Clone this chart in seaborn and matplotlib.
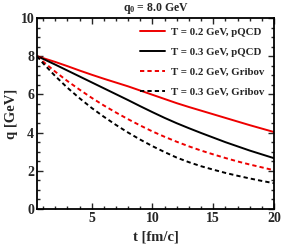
import numpy as np
import pandas as pd
import matplotlib
matplotlib.use("Agg")
import matplotlib.pyplot as plt
import seaborn as sns
from matplotlib.ticker import MultipleLocator

# Data
t_vals = [0.5, 1, 2, 3, 4, 5, 6, 7, 8, 9, 10,
          11, 12, 13, 14, 15, 16, 17, 18, 19, 20]
q_T02_pqcd = [8.00, 7.90, 7.70, 7.48, 7.25, 7.03, 6.82, 6.62, 6.42, 6.20, 5.98,
              5.76, 5.54, 5.34, 5.15, 4.96, 4.77, 4.58, 4.39, 4.21, 4.03]
q_T03_pqcd = [8.00, 7.86, 7.56, 7.25, 6.94, 6.63, 6.32, 6.01, 5.70, 5.38, 5.07,
              4.77, 4.49, 4.23, 3.98, 3.74, 3.50, 3.28, 3.06, 2.86, 2.66]
q_T02_grib = [8.00, 7.72, 7.19, 6.70, 6.25, 5.82, 5.42, 5.05, 4.70, 4.37, 4.06,
              3.78, 3.52, 3.28, 3.06, 2.86, 2.67, 2.49, 2.33, 2.18, 2.03]
q_T03_grib = [8.00, 7.63, 6.96, 6.35, 5.80, 5.29, 4.83, 4.40, 4.00, 3.63, 3.29,
              2.98, 2.69, 2.45, 2.24, 2.06, 1.89, 1.74, 1.60, 1.47, 1.35]
labels = ["T = 0.2 GeV, pQCD", "T = 0.3 GeV, pQCD",
          "T = 0.2 GeV, Gribov", "T = 0.3 GeV, Gribov"]
x_ticks = [5, 10, 15, 20]
y_ticks = [0, 2, 4, 6, 8, 10]
title = "q$_\\mathbf{0}$ = 8.0 GeV"
xlabel = "t [fm/c]"
ylabel = "q [GeV]"

series = [q_T02_pqcd, q_T03_pqcd, q_T02_grib, q_T03_grib]
df = pd.concat([pd.DataFrame({"t": t_vals, "q": s, "case": lab})
                for s, lab in zip(series, labels)], ignore_index=True)

sns.set_style("ticks")
plt.rcParams["font.family"] = ["Liberation Serif", "DejaVu Serif"]
plt.rcParams["font.weight"] = "bold"
plt.rcParams["mathtext.fontset"] = "custom"
plt.rcParams["mathtext.rm"] = "Liberation Serif:bold"
plt.rcParams["mathtext.bf"] = "Liberation Serif:bold"
plt.rcParams["mathtext.it"] = "Liberation Serif:bold"

fig = plt.figure(figsize=(2.83, 2.47), dpi=100)
ax = fig.add_axes([37/283, 1-209/247, (274-37)/283, (209-18)/247])

colors = ["#ee0000", "black", "#ee0000", "black"]
styles = ["-", "-", (0, (2.2, 1.6)), (0, (2.2, 1.6))]
for lab, c, ls in zip(labels, colors, styles):
    sub = df[df["case"] == lab]
    sns.lineplot(data=sub, x="t", y="q", ax=ax, color=c, linestyle=ls,
                 linewidth=1.4, label=lab)

ax.set_xlim(0.5, 20)
ax.set_ylim(0, 10)
ax.xaxis.set_major_locator(plt.FixedLocator(x_ticks))
ax.yaxis.set_major_locator(plt.FixedLocator(y_ticks))
ax.xaxis.set_minor_locator(MultipleLocator(1))
ax.yaxis.set_minor_locator(MultipleLocator(0.5))
ax.tick_params(which="both", direction="in", top=True, right=True, width=1.0)
ax.tick_params(which="major", length=4, labelsize=10, pad=2)
ax.tick_params(which="minor", length=2)
for sp in ax.spines.values():
    sp.set_linewidth(1.3)
    sp.set_color("black")

ax.set_xlabel(xlabel, fontsize=10.5, fontweight="bold", labelpad=4)
ax.set_ylabel(ylabel, fontsize=10.5, fontweight="bold", labelpad=2)
fig.text(0.5 * (37 + 274) / 283, 1 - 9/247, title, ha="center", va="center",
         fontsize=8.5, fontweight="bold")

leg = ax.legend(loc="upper right", frameon=False,
                handlelength=2.3, handletextpad=0.6, labelspacing=0.95,
                borderaxespad=0.45, prop={"weight": "bold", "size": 7.8})

fig.savefig("out.png", dpi=100)
